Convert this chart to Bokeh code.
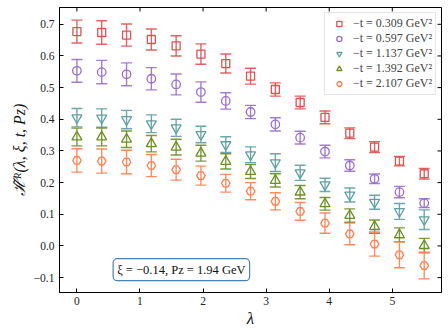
from bokeh.plotting import figure
from bokeh.models import (ColumnDataSource, Whisker, TeeHead, Legend, LegendItem,
                          Label, FixedTicker, Range1d)
from bokeh.embed import file_html
from bokeh.resources import INLINE

# ---------------- data ----------------
lam = [0.0, 0.393, 0.787, 1.180, 1.573, 1.966, 2.360, 2.753,
       3.146, 3.539, 3.933, 4.326, 4.719, 5.113, 5.506]

t_labels = ["\u2212t = 0.309 GeV\u00b2", "\u2212t = 0.597 GeV\u00b2",
            "\u2212t = 1.137 GeV\u00b2", "\u2212t = 1.392 GeV\u00b2",
            "\u2212t = 2.107 GeV\u00b2"]

h_t0309 = [0.677, 0.674, 0.666, 0.652, 0.632, 0.606, 0.576, 0.536,
           0.494, 0.453, 0.406, 0.356, 0.312, 0.268, 0.228]
e_t0309 = [0.036, 0.037, 0.035, 0.033, 0.032, 0.032, 0.030, 0.025,
           0.021, 0.020, 0.020, 0.017, 0.017, 0.015, 0.017]

h_t0597 = [0.553, 0.549, 0.542, 0.528, 0.510, 0.486, 0.458, 0.423,
           0.384, 0.342, 0.298, 0.254, 0.212, 0.170, 0.135]
e_t0597 = [0.036, 0.037, 0.036, 0.035, 0.033, 0.032, 0.026, 0.021,
           0.021, 0.020, 0.020, 0.018, 0.015, 0.018, 0.014]

h_t1137 = [0.405, 0.404, 0.399, 0.386, 0.373, 0.352, 0.320, 0.288,
           0.263, 0.231, 0.193, 0.161, 0.138, 0.109, 0.083]
e_t1137 = [0.029, 0.029, 0.029, 0.028, 0.027, 0.026, 0.025, 0.025,
           0.028, 0.024, 0.021, 0.022, 0.022, 0.025, 0.031]

h_t1392 = [0.344, 0.344, 0.337, 0.323, 0.312, 0.293, 0.267, 0.235,
           0.207, 0.170, 0.133, 0.096, 0.061, 0.035, 0.001]
e_t1392 = [0.028, 0.028, 0.026, 0.026, 0.025, 0.025, 0.024, 0.022,
           0.021, 0.021, 0.020, 0.021, 0.021, 0.022, 0.023]

h_t2107 = [0.270, 0.268, 0.265, 0.254, 0.241, 0.222, 0.198, 0.173,
           0.141, 0.109, 0.072, 0.038, 0.006, -0.028, -0.062]
e_t2107 = [0.037, 0.038, 0.037, 0.035, 0.033, 0.030, 0.028, 0.027,
           0.027, 0.028, 0.032, 0.034, 0.038, 0.041, 0.042]

x_ticks = [0, 1, 2, 3, 4, 5]
y_ticks = [-0.1, 0.0, 0.1, 0.2, 0.3, 0.4, 0.5, 0.6, 0.7]
y_tick_labels = ["\u22120.1", "0.0", "0.1", "0.2", "0.3", "0.4", "0.5", "0.6", "0.7"]

annot_text = "\u03be = \u22120.14, Pz = 1.94 GeV"

# ---------------- styling ----------------
series = [
    (h_t0309, e_t0309, "#de5253", "square", 8),
    (h_t0597, e_t0597, "#9a6fc8", "circle", 8.5),
    (h_t1137, e_t1137, "#5f9ea0", "inverted_triangle", 10),
    (h_t1392, e_t1392, "#6b8e23", "triangle", 10),
    (h_t2107, e_t2107, "#ff7f50", "hex", 8.5),
]
FONT = "Liberation Serif"
W, H = 448, 331
BL, BR, BT, BB = 59, 7, 7, 39
X0, X1 = -0.276, 5.78
Y0, Y1 = -0.147, 0.753
TICK = 4  # px, inward ticks

p = figure(width=W, height=H, output_backend="svg", toolbar_location=None,
           x_range=Range1d(X0, X1), y_range=Range1d(Y0, Y1),
           min_border_left=BL, min_border_right=BR, min_border_top=BT,
           min_border_bottom=BB)
p.grid.visible = False
p.outline_line_color = "black"
p.outline_line_width = 1
p.background_fill_color = "white"

items = []
for (vals, errs, color, marker, size), lab in zip(series, t_labels):
    src = ColumnDataSource(dict(x=lam, y=vals,
                                upper=[v + e for v, e in zip(vals, errs)],
                                lower=[v - e for v, e in zip(vals, errs)]))
    w = Whisker(base="x", upper="upper", lower="lower", source=src,
                dimension="height", line_color=color, line_width=1.4, line_alpha=0.9,
                upper_head=TeeHead(size=11, line_color=color, line_width=1.4, line_alpha=0.9),
                lower_head=TeeHead(size=11, line_color=color, line_width=1.4, line_alpha=0.9))
    p.add_layout(w)
    r = p.scatter("x", "y", source=src, marker=marker, size=size,
                  fill_color=None, line_color=color, line_width=1.3)
    items.append(LegendItem(label=lab, renderers=[r]))

legend = Legend(items=items, location="top_right", margin=5, padding=3,
                label_text_font=FONT, label_text_font_size="12px",
                glyph_width=22, glyph_height=13, label_height=13, spacing=0,
                label_standoff=3, border_line_color="#cccccc", border_line_width=1,
                background_fill_alpha=0.8)
p.add_layout(legend)

ann = Label(x=1.656, y=-0.075, text=annot_text, text_align="center",
            text_baseline="middle", text_font=FONT, text_font_size="12.5px",
            text_color="#111111", border_line_color="#4a80b8", border_line_width=1.2,
            background_fill_color="white", border_radius=4, padding=4)
p.add_layout(ann)

# axes (bottom / left)
for ax in (p.xaxis[0], p.yaxis[0]):
    ax.major_tick_in = TICK
    ax.major_tick_out = 0
    ax.minor_tick_in = 0
    ax.minor_tick_out = 0
    ax.axis_line_color = "black"
    ax.major_tick_line_color = "black"
    ax.major_label_text_font = FONT
    ax.major_label_text_font_size = "11.5px"
    ax.major_label_text_color = "#222222"
    ax.axis_label_text_font = FONT
    ax.axis_label_text_color = "#111111"

p.xaxis[0].ticker = FixedTicker(ticks=x_ticks)
p.yaxis[0].ticker = FixedTicker(ticks=y_ticks)
p.yaxis[0].major_label_overrides = {t: l for t, l in zip(y_ticks, y_tick_labels)}
p.xaxis[0].axis_label = "\u03bb"
p.xaxis[0].axis_label_text_font_size = "17px"
p.xaxis[0].axis_label_text_font_style = "italic"
p.xaxis[0].axis_label_standoff = 1
p.xaxis[0].major_label_standoff = 4
p.yaxis[0].axis_label = "\u210b\u0303\u1d3f(\u03bb, \u03be, t, Pz)"
p.yaxis[0].axis_label_text_font_size = "16px"
p.yaxis[0].axis_label_text_font_style = "italic"
p.yaxis[0].axis_label_standoff = 3
p.yaxis[0].major_label_standoff = 5

# inward ticks on top and right spines (tick marks only, no labels)
frame_w = W - BL - BR
frame_h = H - BT - BB
dy = (Y1 - Y0) / frame_h * TICK
dx = (X1 - X0) / frame_w * TICK
p.segment(x0=x_ticks, x1=x_ticks, y0=[Y1] * len(x_ticks), y1=[Y1 - dy] * len(x_ticks),
          line_color="black", line_width=1)
p.segment(x0=[X1] * len(y_ticks), x1=[X1 - dx] * len(y_ticks), y0=y_ticks, y1=y_ticks,
          line_color="black", line_width=1)

open("out.html", "w").write(file_html(p, INLINE))
